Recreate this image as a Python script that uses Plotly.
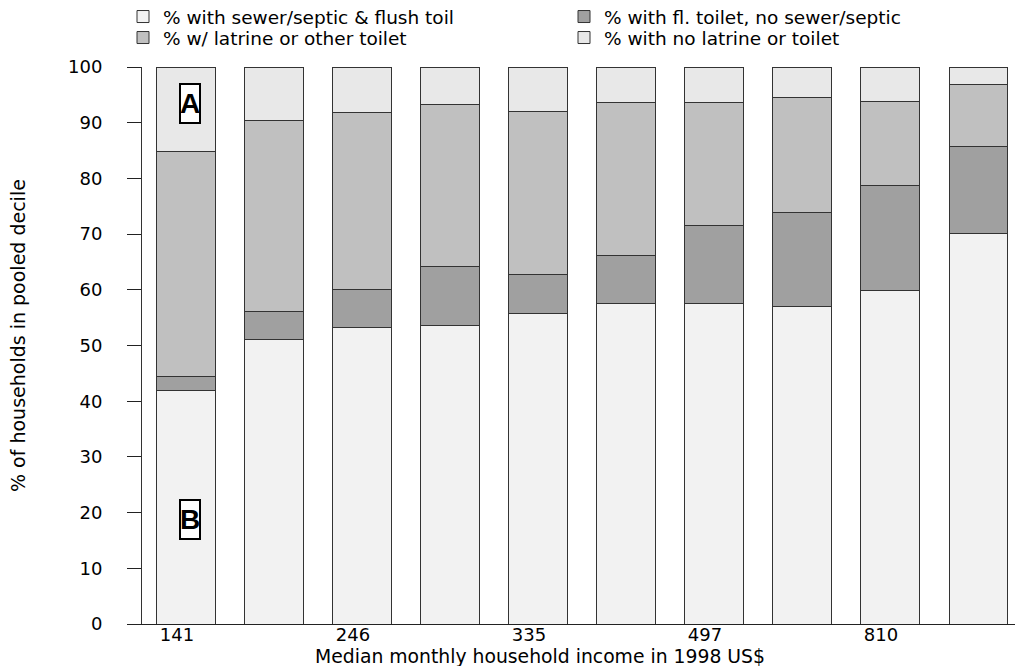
import plotly.graph_objects as go

categories = ["d1", "d2", "d3", "d4", "d5", "d6", "d7", "d8", "d9", "d10"]
tick_labels = ["141", "", "246", "", "335", "", "497", "", "810", ""]

sewer = [42.0, 51.0, 53.2, 53.6, 55.8, 57.5, 57.6, 57.0, 59.8, 70.1]
flush_no_sewer = [2.5, 5.1, 6.9, 10.5, 7.0, 8.7, 14.0, 16.8, 19.0, 15.6]
latrine = [40.3, 34.3, 31.7, 29.2, 29.3, 27.4, 22.1, 20.8, 15.0, 11.1]
none = [15.2, 9.6, 8.2, 6.7, 7.9, 6.4, 6.3, 5.4, 6.2, 3.2]

names = ["% with sewer/septic & flush toil", "% with fl. toilet, no sewer/septic",
         "% w/ latrine or other toilet", "% with no latrine or toilet"]
colors = ["#f2f2f2", "#a0a0a0", "#c0c0c0", "#e8e8e8"]
legend_rows = ["legend", "legend", "legend2", "legend2"]
series = [sewer, flush_no_sewer, latrine, none]

fig = go.Figure()
for nm, col, lg, vals in zip(names, colors, legend_rows, series):
    fig.add_trace(go.Bar(
        x=categories, y=vals, name=nm, width=0.66, legend=lg,
        marker=dict(color=col, line=dict(color="#333333", width=1)),
    ))

FONT = "DejaVu Sans, Liberation Sans, Arial, sans-serif"
legend_common = dict(
    orientation="h", xref="paper", yref="paper",
    x=(123 - 142) / 873, xanchor="left", yanchor="middle",
    entrywidth=396, entrywidthmode="pixels",
    font=dict(size=18.5, family=FONT), traceorder="normal",
    bgcolor="rgba(0,0,0,0)", tracegroupgap=0,
)
fig.update_layout(
    barmode="stack",
    width=1015, height=666,
    margin=dict(l=142, r=0, t=67, b=42, autoexpand=False),
    plot_bgcolor="white", paper_bgcolor="white",
    font=dict(family=FONT, size=18, color="black"),
    showlegend=True,
    legend=dict(legend_common, y=1 + (67 - 17) / 557),
    legend2=dict(legend_common, y=1 + (67 - 38) / 557),
    xaxis=dict(
        type="category", range=[-0.5, 9.42],
        tickmode="array", tickvals=categories, ticktext=tick_labels,
        ticks="", showgrid=False, zeroline=False,
        showline=True, linecolor="#222222", linewidth=1,
        ticklabelshift=-9, ticklabelstandoff=-6,
        tickfont=dict(size=18),
    ),
    yaxis=dict(
        range=[0, 100], tickmode="array", tickvals=list(range(0, 101, 10)),
        ticks="outside", ticklen=14, tickcolor="#222222", tickwidth=1,
        showgrid=False, zeroline=False,
        showline=True, linecolor="#333333", linewidth=1,
        ticklabelstandoff=21, tickfont=dict(size=18),
    ),
    annotations=[
        dict(text="% of households in pooled decile", textangle=-90,
             xref="paper", yref="paper", x=(18 - 142) / 873, y=(624 - 336) / 557,
             xanchor="center", yanchor="middle",
             showarrow=False, font=dict(size=19)),
        dict(text="Median monthly household income in 1998 US$",
             xref="paper", yref="paper", x=(540 - 142) / 873, y=(624 - 656) / 557,
             xanchor="center", yanchor="middle",
             showarrow=False, font=dict(size=18.8)),
        dict(text="<b>A</b>", x="d1", y=93.4, xref="x", yref="y", showarrow=False,
             xshift=4,
             font=dict(size=28, color="black", family="Liberation Sans, Arial, sans-serif"),
             bordercolor="black", borderwidth=2,
             bgcolor="white", width=18, height=37, borderpad=0),
        dict(text="<b>B</b>", x="d1", y=18.7, xref="x", yref="y", showarrow=False,
             xshift=4,
             font=dict(size=28, color="black", family="Liberation Sans, Arial, sans-serif"),
             bordercolor="black", borderwidth=2,
             bgcolor="white", width=18, height=37, borderpad=0),
    ],
)

fig.write_html("out.html", config={"displayModeBar": False},
               post_script="document.body.style.margin='0';")
